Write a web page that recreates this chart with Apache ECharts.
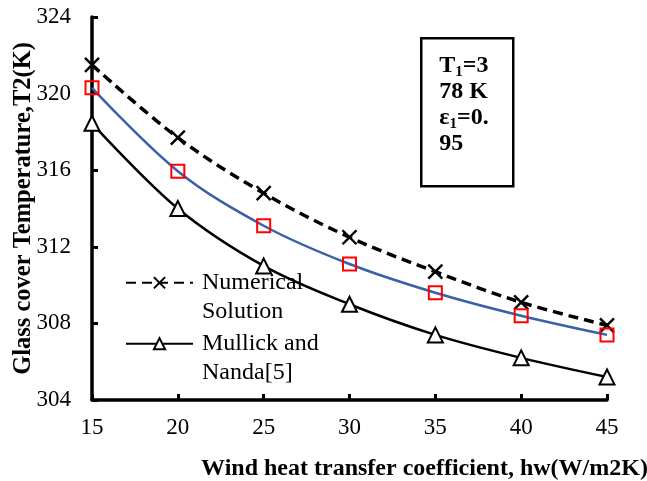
<!DOCTYPE html>
<html><head><meta charset="utf-8">
<script src="https://cdn.jsdelivr.net/npm/echarts@6/dist/echarts.min.js"></script>
<style>html,body{margin:0;padding:0;background:#fff}#c{width:647px;height:481px}</style>
</head><body><div id="c"></div>
<script>
var hw = [15, 20, 25, 30, 35, 40, 45];
var numerical = [321.5, 317.7, 314.8, 312.5, 310.7, 309.1, 307.9];
var present = [320.3, 315.95, 313.1, 311.1, 309.6, 308.4, 307.4];
var mullick = [318.45, 314.0, 311.0, 309.0, 307.4, 306.2, 305.2];
var yTicks = {min: 304, max: 324, interval: 4};
var xTicks = {min: 15, max: 45, interval: 5};

function pairs(xs, ys) { return xs.map(function (x, i) { return [x, ys[i]]; }); }
var FONT = 'Liberation Serif';
var chart = echarts.init(document.getElementById('c'));
var xPath = 'path://M0,0L10,10M10,0L0,10';
chart.setOption({
  animation: false,
  backgroundColor: '#fff',
  grid: {left: 92, right: 40, top: 17, bottom: 81, containLabel: false, outerBoundsMode: 'none'},
  xAxis: {
    type: 'value', min: xTicks.min, max: xTicks.max, interval: xTicks.interval,
    name: 'Wind heat transfer coefficient, hw(W/m2K)', nameLocation: 'middle', nameGap: 57,
    nameMoveOverlap: false,
    nameTextStyle: {fontFamily: FONT, fontWeight: 'bold', fontSize: 24, color: '#000', padding: [0, 0, 0, 150]},
    axisLine: {lineStyle: {color: '#000', width: 3.5}},
    axisTick: {inside: true, length: 6, lineStyle: {color: '#000', width: 3}},
    axisLabel: {fontFamily: FONT, fontSize: 23, color: '#000', margin: 16},
    splitLine: {show: false}
  },
  yAxis: {
    type: 'value', min: yTicks.min, max: yTicks.max, interval: yTicks.interval,
    name: 'Glass cover Temperature,T2(K)', nameLocation: 'middle', nameGap: 56,
    nameMoveOverlap: false,
    nameTextStyle: {fontFamily: FONT, fontWeight: 'bold', fontSize: 24.5, color: '#000'},
    axisLine: {show: true, lineStyle: {color: '#000', width: 3.5}},
    axisTick: {show: true, inside: true, length: 6, lineStyle: {color: '#000', width: 3}},
    axisLabel: {fontFamily: FONT, fontSize: 23, color: '#000', margin: 21},
    splitLine: {show: false}
  },
  legend: {
    orient: 'vertical', left: 125, top: 240, padding: 0, itemWidth: 67, itemHeight: 14, itemGap: -24.5,
    data: ['Numerical\nSolution', 'Mullick and\nNanda[5]'],
    formatter: function (name) { return '\n' + name; },
    textStyle: {fontFamily: FONT, fontSize: 24, color: '#000', lineHeight: 28.5, padding: [0, 0, 0, 4]}
  },
  graphic: [{
    type: 'group', left: 420, top: 37,
    children: [
      {type: 'rect', shape: {x: 0, y: 0, width: 92, height: 148}, style: {fill: '#fff', stroke: '#000', lineWidth: 2.5}},
      {type: 'text', x: 18, y: 15, style: {
        text: '{b|T}{s|1}{b|=3}\n{b|78 K}\n{b|ε}{s|1}{b|=0.}\n{b|95}',
        rich: {
          b: {fontFamily: FONT, fontWeight: 'bold', fontSize: 24, fill: '#000', lineHeight: 26},
          s: {fontFamily: FONT, fontWeight: 'bold', fontSize: 15, fill: '#000', lineHeight: 26, verticalAlign: 'bottom'}
        }
      }}
    ]
  }],
  series: [
    {
      name: 'Numerical\nSolution', type: 'line', smooth: 0.35, data: pairs(hw, numerical),
      symbol: xPath, symbolSize: 14,
      lineStyle: {color: '#000', width: 3.5, type: [10, 6]},
      itemStyle: {color: '#000', borderColor: '#000', borderWidth: 2.4}
    },
    {
      name: 'present', type: 'line', smooth: 0.35, data: pairs(hw, present),
      symbol: 'rect', symbolSize: 13,
      lineStyle: {color: '#3a60a8', width: 2.5},
      itemStyle: {color: 'rgba(255,255,255,0)', borderColor: '#ff0000', borderWidth: 2}
    },
    {
      name: 'Mullick and\nNanda[5]', type: 'line', smooth: 0.35, data: pairs(hw, mullick),
      symbol: 'triangle', symbolSize: 15,
      lineStyle: {color: '#000', width: 2.5},
      itemStyle: {color: '#fff', borderColor: '#000', borderWidth: 2}
    }
  ]
});
</script></body></html>
